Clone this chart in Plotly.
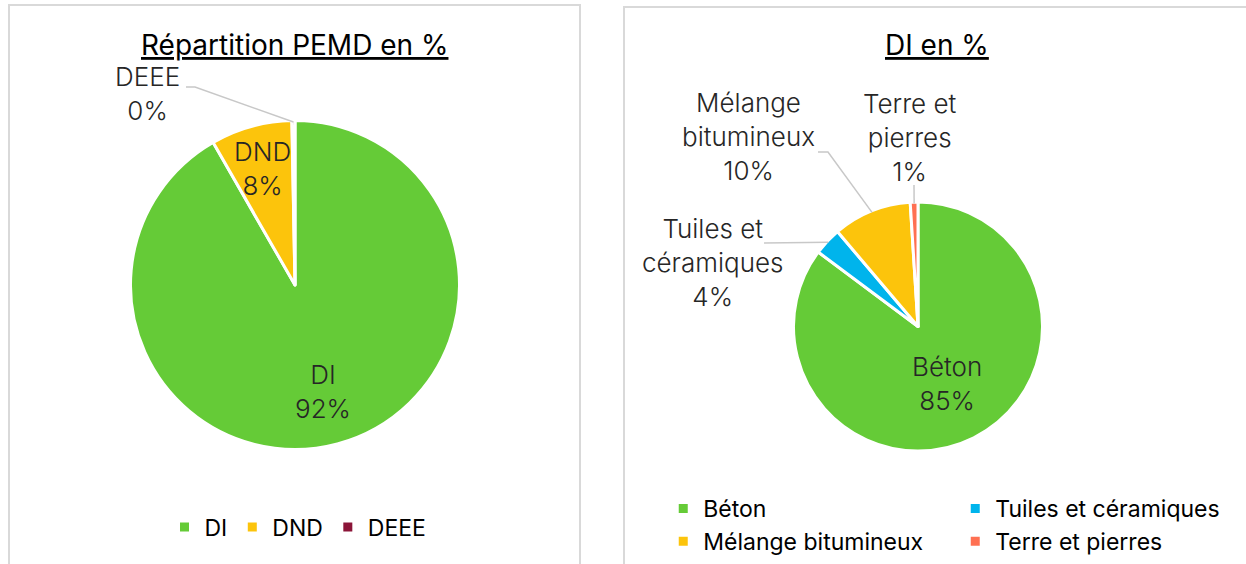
import math
import plotly.graph_objects as go

W, H = 1246, 564
FONT = "Inter"

# ---------------- data ----------------
pemd_labels = ["DI", "DND", "DEEE"]
pemd_values = [91.7, 8.0, 0.3]
pemd_colors = ["#65CB37", "#FCC40C", "#8B1538"]

di_labels = ["Béton", "Tuiles et céramiques", "Mélange bitumineux", "Terre et pierres"]
di_text_labels = ["Béton", "Tuiles et<br>céramiques", "Mélange<br>bitumineux", "Terre et<br>pierres"]
di_values = [85.2, 3.6, 10.2, 1.0]
di_colors = ["#65CB37", "#00B4EC", "#FCC40C", "#FF7052"]

titles = ["Répartition PEMD en %", "DI en %"]

# ---------------- geometry (pixels) ----------------
PEMD_C, PEMD_R = (295, 285), 163
DI_C, DI_R = (918, 326.5), 123
BORDER = 1.5


def px(x):
    return x / W


def py(y):
    return 1 - y / H


def domain(c, r):
    r = r + BORDER
    return dict(x=[px(c[0] - r), px(c[0] + r)], y=[py(c[1] + r), py(c[1] - r)])


def slice_dir(values, i):
    tot = sum(values)
    frac = (sum(values[:i]) + values[i] / 2) / tot
    a = 2 * math.pi * frac
    return math.sin(a), -math.cos(a)


def pct(values, i):
    return f"{round(100 * values[i] / sum(values))}%"


fig = go.Figure()
fig.add_trace(go.Pie(
    labels=pemd_labels, values=pemd_values, sort=False, direction="clockwise",
    rotation=0, marker=dict(colors=pemd_colors, line=dict(color="white", width=3)),
    textinfo="none", domain=domain(PEMD_C, PEMD_R), legend="legend",
    hoverinfo="label+percent",
))
fig.add_trace(go.Pie(
    labels=di_labels, values=di_values, sort=False, direction="clockwise",
    rotation=0, marker=dict(colors=di_colors, line=dict(color="white", width=3)),
    textinfo="none", domain=domain(DI_C, DI_R), legend="legend2",
    hoverinfo="label+percent",
))

annotations = []
shapes = []
lab_font = dict(family=FONT, size=26, color="#262626", weight=300)

# inside labels: (values, text labels, index, centre, radius, radial fraction)
inside = [
    (pemd_values, pemd_labels, 0, PEMD_C, PEMD_R, 0.675),
    (pemd_values, pemd_labels, 1, PEMD_C, PEMD_R, 0.74),
    (di_values, di_text_labels, 0, DI_C, DI_R, 0.52),
]
for vals, labs, i, c, r, k in inside:
    dx, dy = slice_dir(vals, i)
    annotations.append(dict(
        x=px(c[0] + k * r * dx), y=py(c[1] + k * r * dy), xref="paper", yref="paper",
        text=f"{labs[i]}<br>{pct(vals, i)}", showarrow=False, font=lab_font,
        xanchor="center", yanchor="middle", align="center"))

# outside labels: text centre and leader-line start points
outside = [
    (pemd_values, pemd_labels, 2, PEMD_C, PEMD_R, (147, 94), [(186, 87), (195, 87)]),
    (di_values, di_text_labels, 1, DI_C, DI_R, (712, 262), [(764, 243)]),
    (di_values, di_text_labels, 2, DI_C, DI_R, (748, 136), [(818, 152), (828, 152)]),
    (di_values, di_text_labels, 3, DI_C, DI_R, (910, 137), [(914, 185)]),
]
for vals, labs, i, c, r, tpos, pts in outside:
    annotations.append(dict(
        x=px(tpos[0]), y=py(tpos[1]), xref="paper", yref="paper",
        text=f"{labs[i]}<br>{pct(vals, i)}", showarrow=False, font=lab_font,
        xanchor="center", yanchor="middle", align="center"))
    dx, dy = slice_dir(vals, i)
    end = (c[0] + r * dx, c[1] + r * dy)
    allp = pts + [end]
    path = "M " + " L ".join(f"{px(a)},{py(b)}" for a, b in allp)
    shapes.append(dict(type="path", path=path, xref="paper", yref="paper",
                       line=dict(color="#C8C8C8", width=1.5)))

# titles
for t, cx in zip(titles, [294, 937]):
    annotations.append(dict(
        x=px(cx), y=py(45), xref="paper", yref="paper", text=f"<u>{t}</u>",
        showarrow=False, font=dict(family=FONT, size=28, color="black"),
        xanchor="center", yanchor="middle"))

# chart boxes
for x0, x1, y0 in [(9, 580, 5), (624, 1260, 7)]:
    shapes.append(dict(type="rect", xref="paper", yref="paper",
                       x0=px(x0), x1=px(x1), y0=py(y0), y1=py(580),
                       line=dict(color="#D9D9D9", width=2), layer="below"))

fig.update_layout(
    width=W, height=H,
    margin=dict(l=0, r=0, t=0, b=0, autoexpand=False),
    paper_bgcolor="white", plot_bgcolor="white",
    font=dict(family=FONT),
    annotations=annotations, shapes=shapes,
    legend=dict(orientation="h", x=px(298), xanchor="center", y=py(527), yanchor="middle",
                font=dict(family=FONT, size=23, color="black"), bgcolor="rgba(0,0,0,0)"),
    legend2=dict(orientation="h", x=1.001, xanchor="right", y=py(525), yanchor="middle",
                 entrywidth=247, entrywidthmode="pixels",
                 font=dict(family=FONT, size=23, color="black"), bgcolor="rgba(0,0,0,0)"),
)

fig.write_html("out.html", config={"displayModeBar": False},
               post_script="document.body.style.margin='0';document.body.style.overflow='hidden';")
